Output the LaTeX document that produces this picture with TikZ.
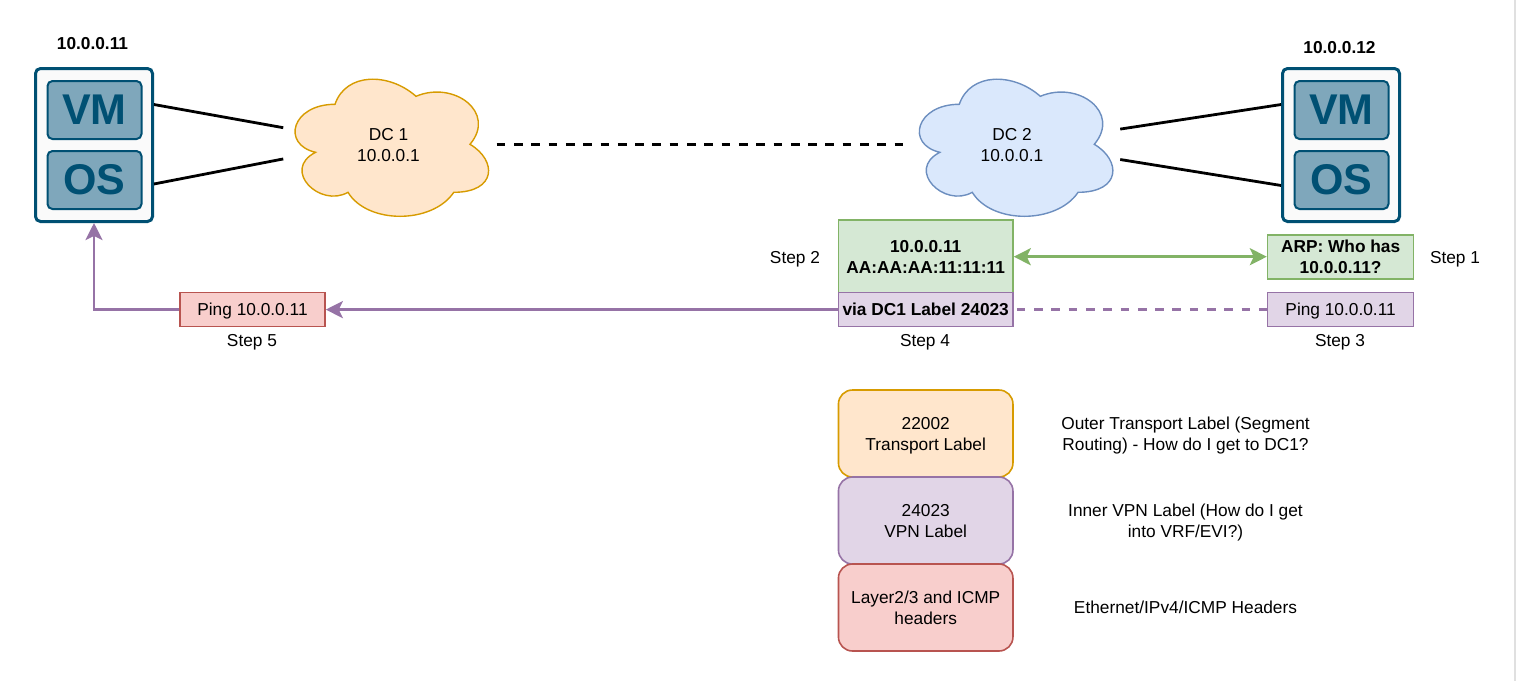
\documentclass[tikz,border=0pt]{standalone}
\usepackage{fontspec}
\setmainfont{Liberation Sans}
\usetikzlibrary{arrows.meta}
\definecolor{vmblue}{HTML}{005073}
\definecolor{vmfill}{HTML}{7FA7BB}
\definecolor{hostfill}{HTML}{FAFAFA}
\definecolor{orangefill}{HTML}{FFE6CC}
\definecolor{orangeline}{HTML}{D79B00}
\definecolor{bluefill}{HTML}{DAE8FC}
\definecolor{blueline}{HTML}{6C8EBF}
\definecolor{greenfill}{HTML}{D5E8D4}
\definecolor{greenline}{HTML}{82B366}
\definecolor{purplefill}{HTML}{E1D5E7}
\definecolor{purpleline}{HTML}{9673A6}
\definecolor{redfill}{HTML}{F8CECC}
\definecolor{redline}{HTML}{B85450}
\newcommand{\dccloud}[3]{%
  \draw[line width=1.4pt, draw=#3, fill=#2, shift={(#1,64.3)}, x=216pt, y=-160pt]
    (0.25,0.25) .. controls (0.05,0.25) and (0,0.5) .. (0.16,0.55)
    .. controls (0,0.66) and (0.18,0.9) .. (0.31,0.8)
    .. controls (0.4,1) and (0.7,1) .. (0.8,0.8)
    .. controls (1,0.8) and (1,0.6) .. (0.875,0.5)
    .. controls (1,0.3) and (0.8,0.1) .. (0.625,0.2)
    .. controls (0.5,0.05) and (0.3,0.05) .. (0.25,0.25) -- cycle;}
\newcommand{\twolines}[2]{\rule{0pt}{17.4pt}#1\\#2\rule[-4pt]{0pt}{0pt}}
\tikzset{
  label/.style={font=\fontsize{17.3}{21}\selectfont, align=center, inner sep=0pt},
  boldlabel/.style={label, font=\fontsize{17.3}{21}\selectfont\bfseries},
  oneline/.style={text height=16.4pt, text depth=4pt},
  hostbox/.style={draw=vmblue, fill=hostfill, line width=3pt, rounded corners=5pt, minimum width=117pt, minimum height=153pt},
  guestbox/.style={draw=vmblue, fill=vmfill, text=vmblue, line width=2pt, rounded corners=5pt, minimum width=94pt, minimum height=58pt, font=\fontsize{43}{43}\selectfont\bfseries, inner sep=0pt},
  dcnode/.style={label, minimum width=216pt, minimum height=160pt},
  tablebox/.style={draw=#1line, fill=#1fill, line width=1.6pt},
  stackbox/.style={label, tablebox=#1, rounded corners=14pt, minimum width=174.5pt, minimum height=87pt},
  link/.style={line width=2.8pt},
  dashlink/.style={link, dash pattern=on 8.7pt off 8.6pt},
  flow/.style={line width=2.8pt, draw=#1, -{Stealth[length=17pt,width=17pt,inset=4pt]}},
}
\begin{document}
\begin{tikzpicture}[x=1pt, y=-1pt]
  \useasboundingbox (0,0) rectangle (1516,681);
  \fill[black!12] (1514,0) rectangle (1516,681);
  % clouds
  \dccloud{281}{orangefill}{orangeline}
  \dccloud{905.3}{bluefill}{blueline}
  \node[dcnode] (dcone) at (388.5,144.3) {\twolines{DC 1}{10.0.0.1}};
  \node[dcnode] (dctwo) at (1012,144.3) {\twolines{DC 2}{10.0.0.1}};
  % hosts
  \node[hostbox] (hostleft) at (94,145) {};
  \node[guestbox] (vmleft) at (94.5,110) {VM};
  \node[guestbox] (osleft) at (94.5,180) {OS};
  \node[boldlabel, oneline] at (92.5,43) (ipleft) {10.0.0.11};
  \node[hostbox] (hostright) at (1341,145) {};
  \node[guestbox] (vmright) at (1341.5,110) {VM};
  \node[guestbox] (osright) at (1341.5,180) {OS};
  \node[boldlabel, oneline] at (1339.5,47) (ipright) {10.0.0.12};
  % links
  \draw[link, shorten >=-3pt] (hostleft.34.6) -- (dcone.171.5);
  \draw[link, shorten >=-3pt] (hostleft.-33) -- (dcone.188.5);
  \draw[link] (hostright.146) -- (dctwo.8.5);
  \draw[link] (hostright.214) -- (dctwo.-8.5);
  \draw[dashlink] (dcone.east) -- (dctwo.west);
  % tables
  \node[boldlabel, tablebox=green, minimum width=174.5pt, minimum height=73pt] (mactable) at (925.7,256.7) {\twolines{10.0.0.11}{AA:AA:AA:11:11:11}};
  \node[boldlabel, oneline, tablebox=purple, minimum width=174.5pt, minimum height=34pt] (viatable) at (925.7,309.6) {via DC1 Label 24023};
  \node[boldlabel, tablebox=green, minimum width=146pt, minimum height=44pt] (arpbox) at (1340.6,256.7) {\twolines{ARP: Who has}{10.0.0.11?}};
  \node[label, oneline, tablebox=purple, minimum width=146pt, minimum height=34pt] (pingsrc) at (1340.6,309.6) {Ping 10.0.0.11};
  \node[label, oneline, tablebox=red, minimum width=145pt, minimum height=34pt] (pingdst) at (252.5,309.6) {Ping 10.0.0.11};
  % steps
  \node[label, oneline] (stepone) at (1455,257) {Step 1};
  \node[label, oneline] (steptwo) at (795,257) {Step 2};
  \node[label, oneline] (stepthree) at (1340,340) {Step 3};
  \node[label, oneline] (stepfour) at (925,340) {Step 4};
  \node[label, oneline] (stepfive) at (252,340) {Step 5};
  % arrows
  \draw[flow=greenline, {Stealth[length=17pt,width=17pt,inset=4pt]}-{Stealth[length=17pt,width=17pt,inset=4pt]}] (mactable.east) -- (arpbox.west);
  \draw[dashlink, draw=purpleline, shorten <=3pt] (viatable.east) -- (pingsrc.west);
  \draw[flow=purpleline] (viatable.west) -- (pingdst.east);
  \draw[flow=purpleline] (pingdst.west) -| (hostleft.south);
  % label stack
  \node[stackbox=orange] (transport) at (925.7,433.5) {\twolines{22002}{Transport Label}};
  \node[stackbox=purple] (vpn) at (925.7,520.5) {\twolines{24023}{VPN Label}};
  \node[stackbox=red] (headers) at (925.7,607.5) {\twolines{Layer2/3 and ICMP}{headers}};
  \node[label] (transportnote) at (1185.5,433.5) {\twolines{Outer Transport Label (Segment}{Routing) - How do I get to DC1?}};
  \node[label] (vpnnote) at (1185.5,520.5) {\twolines{Inner VPN Label (How do I get}{into VRF/EVI?)}};
  \node[label, oneline] (headersnote) at (1185.5,607) {Ethernet/IPv4/ICMP Headers};
\end{tikzpicture}
\end{document}
